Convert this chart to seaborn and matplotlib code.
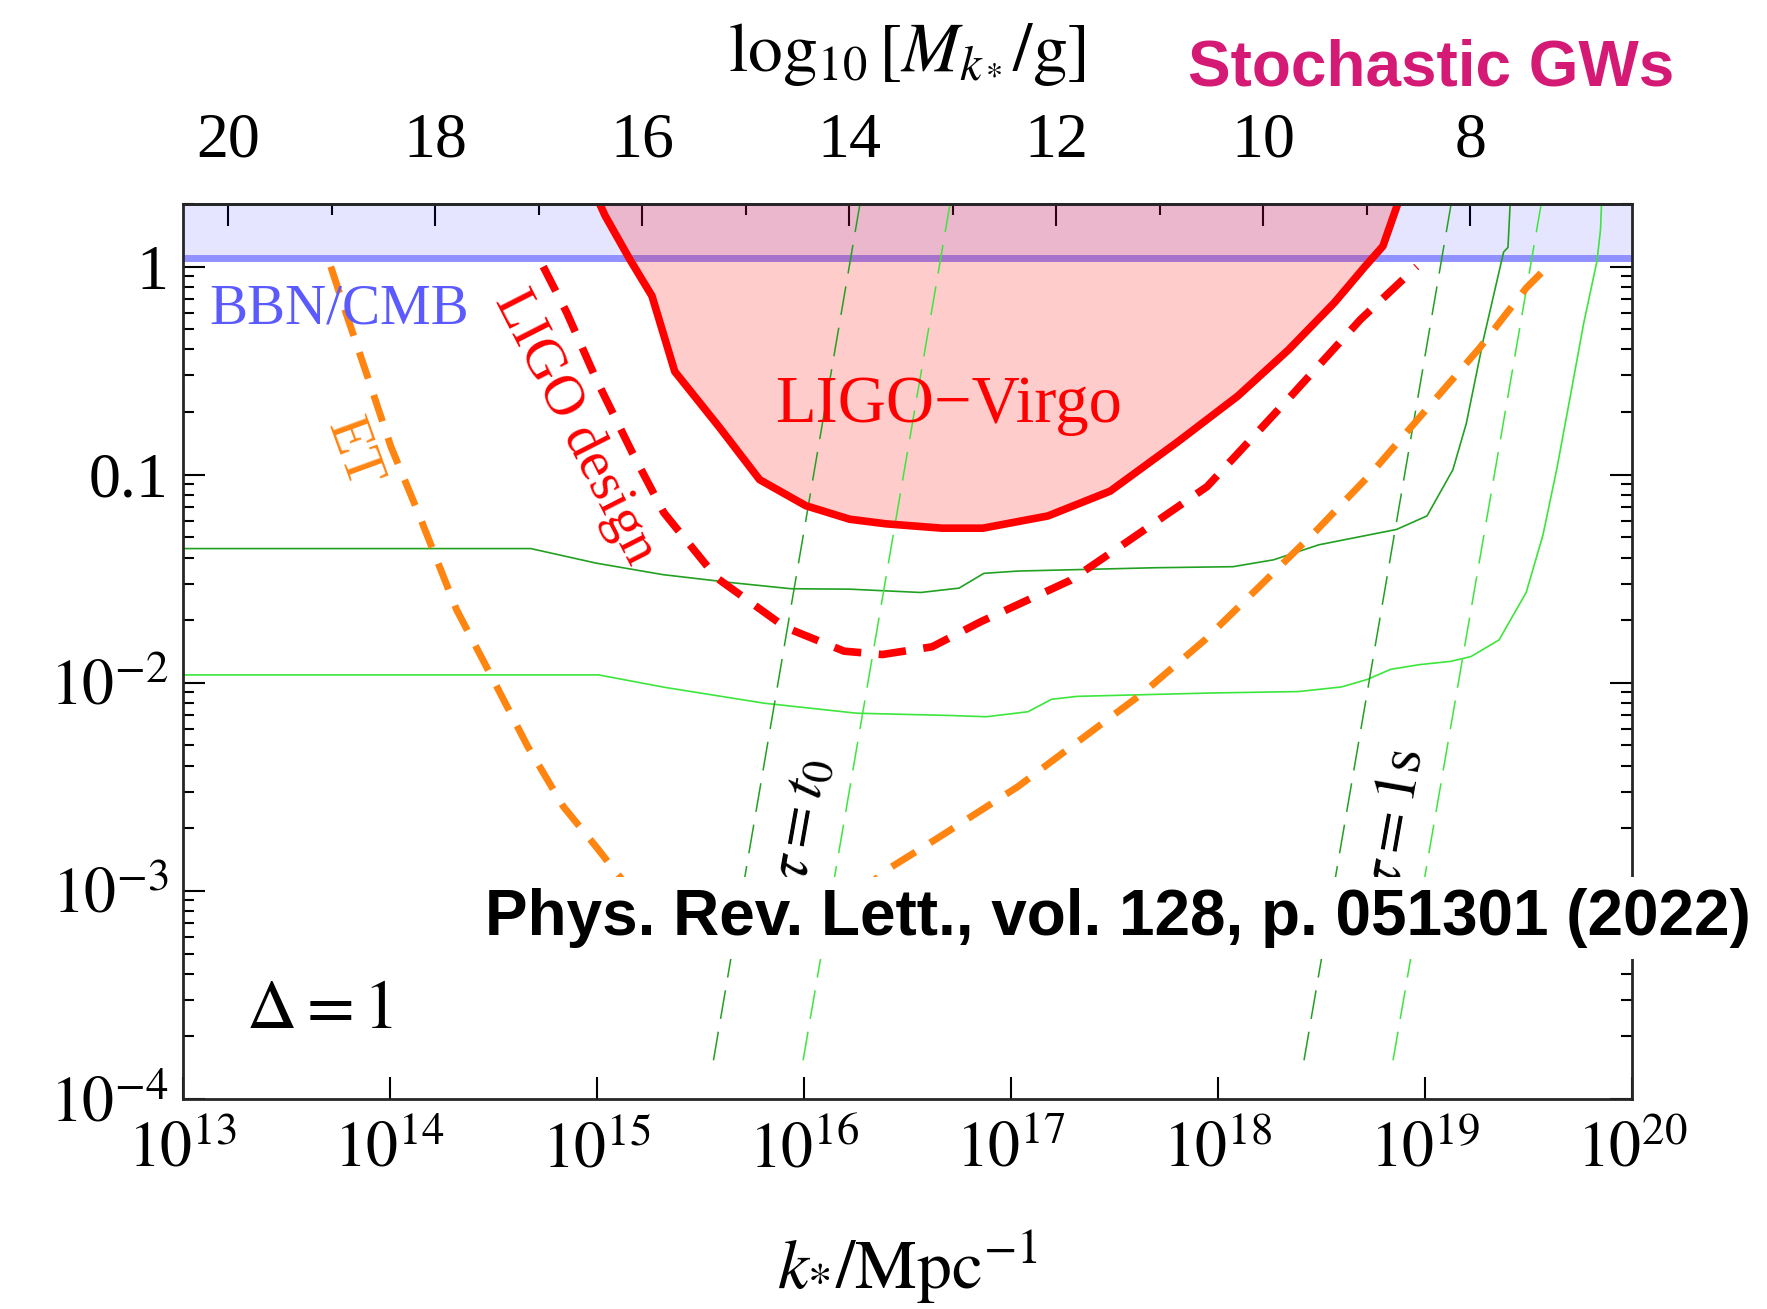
import numpy as np
import pandas as pd
import matplotlib
matplotlib.use("Agg")
import matplotlib.pyplot as plt
import seaborn as sns
from matplotlib.ticker import NullFormatter, FixedLocator

# --- data (log10 values) ---
# LIGO-Virgo O3 bound (solid, filled above)
lv_logk = [15.009, 15.041, 15.161, 15.267, 15.377, 15.591, 15.787, 16.010, 16.222, 16.397,
           16.669, 16.865, 17.180, 17.480, 17.801, 18.095, 18.340, 18.563, 18.710, 18.797, 18.873]
lv_logo = [0.314, 0.244, 0.033, -0.141, -0.504, -0.770, -1.024, -1.149, -1.214, -1.236,
           -1.257, -1.257, -1.198, -1.079, -0.846, -0.623, -0.401, -0.173, 0.0, 0.098, 0.314]

# LIGO design sensitivity (dashed)
ld_logk = [14.742, 14.856, 14.998, 15.172, 15.324, 15.580, 15.912, 16.195, 16.380, 16.620,
           16.854, 17.289, 17.562, 17.948, 18.367, 18.688, 18.960]
ld_logo = [0.0, -0.222, -0.542, -0.894, -1.182, -1.496, -1.734, -1.848, -1.864, -1.827,
           -1.707, -1.507, -1.322, -1.057, -0.607, -0.255, 0.0]

# Einstein Telescope (dashed)
et_logk = [13.716, 13.789, 13.898, 14.007, 14.138, 14.323, 14.491, 14.666, 14.840, 15.009,
           15.085, 15.166, 15.303, 15.466, 15.656, 15.874, 16.092, 16.255, 16.391, 16.636,
           17.034, 17.333, 17.638, 17.937, 18.204, 18.476, 18.737, 19.010, 19.265, 19.489, 19.587]
et_logo = [0.0, -0.222, -0.542, -0.867, -1.182, -1.648, -1.967, -2.304, -2.596, -2.802,
           -2.900, -2.997, -3.106, -3.192, -3.236, -3.225, -3.133, -3.024, -2.905, -2.753,
           -2.499, -2.276, -2.049, -1.794, -1.534, -1.268, -0.997, -0.683, -0.390, -0.103, -0.005]

# model curves (thin solid green)
g1_logk = [13.0, 14.682, 14.998, 15.319, 15.645, 15.939, 16.222, 16.565, 16.750, 16.870,
           17.034, 17.698, 18.073, 18.269, 18.487, 18.863, 19.010, 19.135, 19.200, 19.282,
           19.380, 19.401, 19.412]
g1_logo = [-1.355, -1.355, -1.425, -1.480, -1.518, -1.548, -1.550, -1.566, -1.545, -1.474,
           -1.463, -1.447, -1.442, -1.409, -1.337, -1.263, -1.198, -0.976, -0.753, -0.352,
           0.070, 0.092, 0.309]

g2_logk = [13.0, 15.009, 15.330, 15.809, 16.255, 16.707, 16.881, 17.083, 17.197, 17.322,
           17.964, 18.389, 18.596, 18.721, 18.835, 18.971, 19.124, 19.222, 19.358, 19.489,
           19.570, 19.636, 19.701, 19.766, 19.831, 19.848, 19.853]
g2_logo = [-1.962, -1.962, -2.022, -2.098, -2.146, -2.157, -2.163, -2.139, -2.079, -2.065,
           -2.049, -2.042, -2.020, -1.984, -1.935, -1.913, -1.897, -1.874, -1.794, -1.566,
           -1.290, -0.976, -0.629, -0.276, 0.027, 0.179, 0.309]

# straight dashed lines (tau = t0 and tau = 1 s), endpoints
tau_logo = [-3.814, 0.304]
tau_t0_dark = [15.564, 16.272]
tau_t0_light = [15.997, 16.707]
tau_1s_dark = [18.416, 19.127]
tau_1s_light = [18.846, 19.562]

bbn_level = 1.1
m_offset = 46.44  # log10 M = m_offset - 2 log10 k

xticks = [1e13, 1e14, 1e15, 1e16, 1e17, 1e18, 1e19, 1e20]
xticklabels = [r"$10^{13}$", r"$10^{14}$", r"$10^{15}$", r"$10^{16}$",
               r"$10^{17}$", r"$10^{18}$", r"$10^{19}$", r"$10^{20}$"]
yticks = [1e-4, 1e-3, 1e-2, 0.1, 1]
yticklabels = [r"$10^{-4}$", r"$10^{-3}$", r"$10^{-2}$", "0.1", "1"]
mticks = [8, 10, 12, 14, 16, 18, 20]
mticks_minor = [9, 11, 13, 15, 17, 19]


def pw(v):
    return 10 ** np.asarray(v, dtype=float)


sns.set_theme(style="ticks")
plt.rcParams["font.family"] = ["Liberation Serif", "DejaVu Serif"]
plt.rcParams["mathtext.fontset"] = "stix"
plt.rcParams["axes.linewidth"] = 2.0
plt.rcParams["text.color"] = "black"
plt.rcParams["axes.labelcolor"] = "black"

fig = plt.figure(figsize=(17.67, 13.09), dpi=100)
ax = fig.add_axes([0.1033, 0.1604, 0.8203, 0.6838])
ax.set_xscale("log")
ax.set_yscale("log")

# BBN/CMB band
ax.axhspan(bbn_level, 10, color="blue", alpha=0.1, lw=0, zorder=1)
ax.axhline(bbn_level, color="#9090FF", lw=5, zorder=2)

# LIGO-Virgo bound
ax.fill_between(pw(lv_logk), pw(lv_logo), 10, color="red", alpha=0.2, lw=0, zorder=3)
sns.lineplot(x=pw(lv_logk), y=pw(lv_logo), ax=ax, color="red", lw=5.5,
             sort=False, estimator=None, zorder=6)

# model curves
sns.lineplot(x=pw(g1_logk), y=pw(g1_logo), ax=ax, color="#22A022", lw=1.2,
             sort=False, estimator=None, zorder=4)
sns.lineplot(x=pw(g2_logk), y=pw(g2_logo), ax=ax, color="#3CE63C", lw=1.2,
             sort=False, estimator=None, zorder=4)

for xs, col in [(tau_t0_dark, "#22A022"), (tau_t0_light, "#3CE63C"),
                (tau_1s_dark, "#22A022"), (tau_1s_light, "#3CE63C")]:
    sns.lineplot(x=pw(xs), y=pw(tau_logo), ax=ax, color=col, lw=1.1,
                 linestyle=(0, (19, 8.5)), sort=False, estimator=None, zorder=4)

# detector sensitivities
sns.lineplot(x=pw(ld_logk), y=pw(ld_logo), ax=ax, color="red", lw=5.5,
             linestyle=(0, (3.6, 2.3)), sort=False, estimator=None, zorder=5)
sns.lineplot(x=pw(et_logk), y=pw(et_logo), ax=ax, color="#FF8410", lw=5.0,
             linestyle=(0, (4, 2.5)), sort=False, estimator=None, zorder=5)

ax.set_xlim(1e13, 1e20)
ax.set_ylim(1e-4, 2.0)

ax.set_xticks(xticks)
ax.set_xticklabels(xticklabels)
ax.set_yticks(yticks)
ax.set_yticklabels(yticklabels)
ax.tick_params(which="both", direction="in", top=False, right=True, width=1.5,
               labelsize=46, colors="black")
ax.tick_params(which="major", length=16)
ax.tick_params(which="minor", length=8)
ax.tick_params(axis="x", pad=17)
ax.tick_params(axis="y", pad=10)
ax.set_xlabel(r"$k_{*}/\mathrm{Mpc}^{-1}$", fontsize=50, labelpad=34, color="black")
ax.set_ylabel("")
for s in ax.spines.values():
    s.set_linewidth(2.0)
    s.set_zorder(10)

# top axis: PBH mass
sec = ax.secondary_xaxis("top", functions=(lambda k: m_offset - 2 * np.log10(np.maximum(k, 1e-300)),
                                           lambda m: 10 ** ((m_offset - np.asarray(m)) / 2)))
sec.xaxis.set_major_locator(FixedLocator(mticks))
sec.xaxis.set_minor_locator(FixedLocator(mticks_minor))
sec.set_xticklabels([str(m) for m in mticks])
sec.xaxis.set_minor_formatter(NullFormatter())
sec.tick_params(which="both", direction="in", width=1.5, labelsize=46, pad=24, colors="black")
sec.tick_params(which="major", length=16)
sec.tick_params(which="minor", length=8)
sec.set_xlabel(r"$\log_{10}[M_{k_*}/\mathrm{g}]$", fontsize=50, labelpad=30, color="black")
sec.spines["top"].set_linewidth(2.0)

# labels in the plot
ax.text(pw(13.13), 0.62, "BBN/CMB", color="#5A5AFF", fontsize=41, va="center", ha="left", zorder=7)
ax.text(pw(16.70), 0.215, "LIGO\u2212Virgo", color="red", fontsize=48, ha="center", va="center", zorder=7)
ax.text(pw(14.894), pw(-0.775), "LIGO design", color="red", fontsize=41, rotation=-63,
        rotation_mode="anchor", ha="center", va="center", zorder=7)
ax.text(pw(13.822), pw(-0.894), "ET", color="#FF8410", fontsize=41, rotation=-70,
        rotation_mode="anchor", ha="center", va="center", zorder=7)
ax.text(pw(13.305), pw(-3.577), r"$\Delta = 1$", color="black", fontsize=50, ha="left", va="center", zorder=7)
ax.text(pw(15.990), pw(-2.655), r"$\tau = t_0$", color="black", fontsize=44, rotation=80,
        rotation_mode="anchor", ha="center", va="center", zorder=7)
ax.text(pw(18.857), pw(-2.650), r"$\tau = 1\mathrm{s}$", color="black", fontsize=44, rotation=80,
        rotation_mode="anchor", ha="center", va="center", zorder=7)

fig.text(0.6723, 0.935, "Stochastic GWs", color="#D51A76", fontsize=46, fontweight="bold",
         family=["Liberation Sans", "DejaVu Sans"], ha="left", va="baseline")
fig.text(0.2743, 0.2987, "Phys. Rev. Lett., vol. 128, p. 051301 (2022)", color="black",
         fontsize=46, fontweight="bold", family=["Liberation Sans", "DejaVu Sans"],
         ha="left", va="center", zorder=20,
         bbox=dict(boxstyle="square,pad=0.17", facecolor="white", edgecolor="none"))

fig.savefig("out.png", dpi=100)
